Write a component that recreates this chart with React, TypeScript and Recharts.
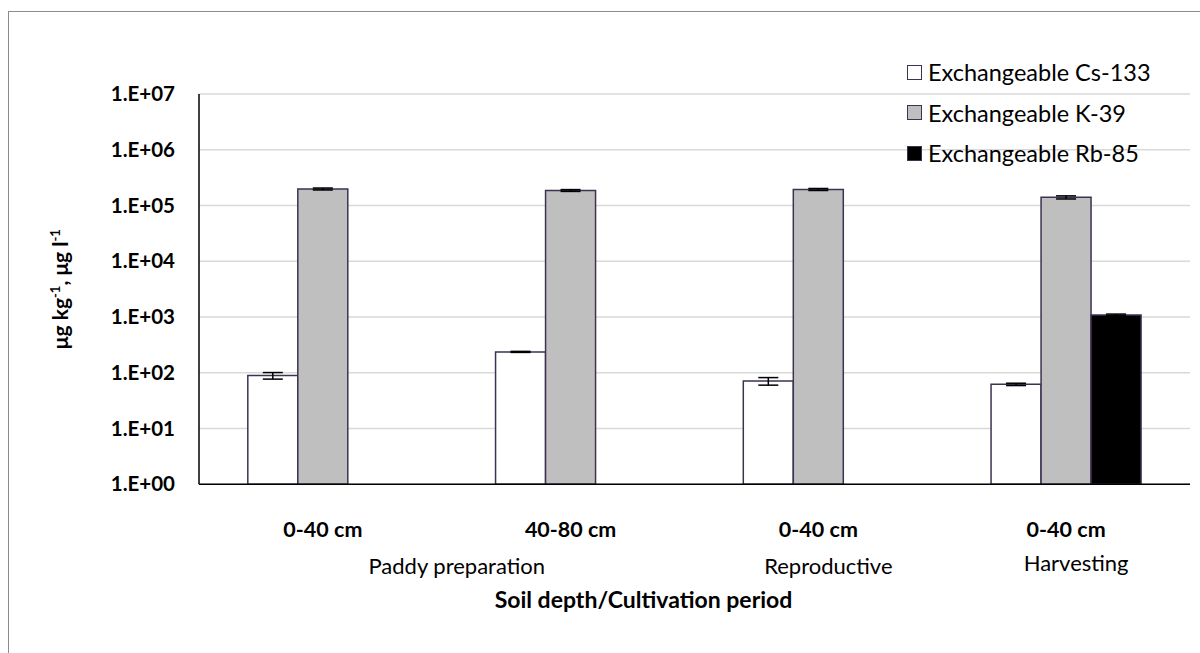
import React from "react";
import {
  BarChart,
  Bar,
  XAxis,
  YAxis,
  CartesianGrid,
  ErrorBar,
} from "recharts";

const depths = ["0-40 cm", "40-80 cm", "0-40 cm", "0-40 cm"];
const periods = ["Paddy preparation", "Paddy preparation", "Reproductive", "Harvesting"];
const cs133 = [89, 237, 71, 62];
const cs133Err = [12, 5, 11, 3];
const k39 = [198000, 186000, 194000, 140000];
const k39Err = [8000, 7000, 8000, 9000];
const rb85: (number | null)[] = [null, null, null, 1090];
const rb85Err: (number | null)[] = [null, null, null, 40];
const yTicks = [1, 10, 100, 1000, 10000, 100000, 1000000, 10000000];
const yTickLabels = ["1.E+00", "1.E+01", "1.E+02", "1.E+03", "1.E+04", "1.E+05", "1.E+06", "1.E+07"];

const seriesInfo = [
  { key: "cs", name: "Exchangeable Cs-133", fill: "#ffffff" },
  { key: "k", name: "Exchangeable K-39", fill: "#bfbfbf" },
  { key: "rb", name: "Exchangeable Rb-85", fill: "#000000" },
];

const data = depths.map((d, i) => ({
  depth: d,
  period: periods[i],
  cs: cs133[i],
  csErr: cs133Err[i],
  k: k39[i],
  kErr: k39Err[i],
  rb: rb85[i],
  rbErr: rb85Err[i],
}));

const FONT = "Lato, 'Open Sans', sans-serif";
const EDGE = "#3f3151";
const BAND = (1190 - 199) / depths.length;

const CategoryTick = (props: any) => {
  const { x, y, payload, index } = props;
  const i = index ?? payload.index;
  const period = periods[i];
  const first = periods.indexOf(period) === i;
  let span = 0;
  periods.forEach((p) => {
    if (p === period) span++;
  });
  const periodX = x + ((span - 1) * BAND) / 2 + 10;
  return (
    <g>
      <text
        x={x}
        y={y + 45}
        textAnchor="middle"
        fontFamily={FONT}
        fontWeight={700}
        fontSize={21.5}
        fill="#000"
      >
        {payload.value}
      </text>
      {first && (
        <text
          x={periodX}
          y={y + (i === 3 ? 79 : 82)}
          textAnchor="middle"
          fontFamily={FONT}
          fontSize={22}
          fill="#000"
        >
          {period}
        </text>
      )}
    </g>
  );
};

const ValueTick = (props: any) => {
  const { x, y, payload } = props;
  const idx = yTicks.indexOf(payload.value);
  return (
    <text
      x={x}
      y={y + 7}
      textAnchor="end"
      fontFamily={FONT}
      fontWeight={700}
      fontSize={20.5}
      fill="#000"
    >
      {yTickLabels[idx]}
    </text>
  );
};

const YTitle = (props: any) => {
  const vb = props.viewBox;
  const cx = vb.x + 68;
  const cy = vb.y + vb.height / 2;
  return (
    <text
      x={cx}
      y={cy}
      transform={`rotate(-90 ${cx} ${cy})`}
      textAnchor="middle"
      fontFamily={FONT}
      fontWeight={700}
      fontSize={21}
      fill="#000"
    >
      <tspan>μg kg</tspan>
      <tspan fontSize={13} dy={-8}>-1</tspan>
      <tspan dy={8}>, μg l</tspan>
      <tspan fontSize={13} dy={-8}>-1</tspan>
    </text>
  );
};

const LegendBox = () => (
  <div
    style={{
      position: "absolute",
      left: 907,
      top: 52,
      fontFamily: FONT,
      fontSize: 23.5,
      color: "#000",
    }}
  >
    {seriesInfo.map((s) => (
      <div key={s.key} style={{ display: "flex", alignItems: "center", height: 40.5 }}>
        <span
          style={{
            display: "inline-block",
            width: 13,
            height: 13,
            background: s.fill,
            border: `1.5px solid ${EDGE}`,
            marginRight: 6,
          }}
        />
        <span>{s.name}</span>
      </div>
    ))}
  </div>
);

export default function App() {
  return (
    <div style={{ position: "absolute", left: 0, top: 0, width: 1200, height: 653, background: "#fff", overflow: "hidden" }}>
      <div
        style={{
          position: "absolute",
          left: 8,
          top: 11,
          width: 1300,
          height: 700,
          borderLeft: "1.5px solid #8c8c8c",
          borderTop: "1.5px solid #8c8c8c",
        }}
      />
      <div style={{ position: "absolute", left: 0, top: 0 }}>
        <BarChart
          width={1200}
          height={653}
          data={data}
          margin={{ top: 94, right: 10, bottom: 0, left: 0 }}
          barCategoryGap="19.7%"
          barGap={0}
        >
          <CartesianGrid vertical={false} stroke="#d9d9d9" strokeWidth={1.5} />
          <XAxis
            dataKey="depth"
            height={168.7}
            tickLine={false}
            axisLine={{ stroke: "#000", strokeWidth: 1.5 }}
            tick={<CategoryTick />}
            interval={0}
            label={{
              value: "Soil depth/Cultivation period",
              position: "insideBottom",
              offset: 45,
              dx: -51,
              fontFamily: FONT,
              fontWeight: 700,
              fontSize: 23,
              fill: "#000",
            }}
          />
          <YAxis
            scale="log"
            domain={[1, 10000000]}
            ticks={yTicks}
            allowDataOverflow
            width={199}
            tickLine={false}
            tickSize={6}
            tickMargin={18}
            axisLine={{ stroke: "#000", strokeWidth: 1.5 }}
            tick={<ValueTick />}
            interval={0}
            label={<YTitle />}
          />
          {seriesInfo.map((s) => (
            <Bar
              key={s.key}
              dataKey={s.key}
              name={s.name}
              fill={s.fill}
              stroke={EDGE}
              strokeWidth={1.5}
              isAnimationActive={false}
            >
              <ErrorBar dataKey={`${s.key}Err`} width={10} stroke="#000" strokeWidth={1.5} />
            </Bar>
          ))}
        </BarChart>
      </div>
      <LegendBox />
    </div>
  );
}
